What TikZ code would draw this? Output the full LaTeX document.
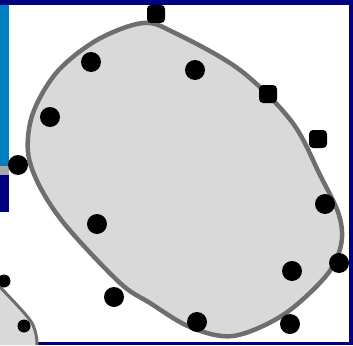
\documentclass[tikz,border=0pt]{standalone}
\begin{document}
\begin{tikzpicture}[x=1pt,y=-1pt,
  dotc/.style={circle,fill=black,draw=none,minimum size=20pt,inner sep=0pt},
  dots/.style={rectangle,rounded corners=4pt,fill=black,draw=none,minimum size=18pt,inner sep=0pt},
  dotsmall/.style={circle,fill=black,draw=none,minimum size=13pt,inner sep=0pt},
  blobline/.style={draw=blobgray,line width=4.5pt,fill=blobfill}]
\definecolor{navy}{RGB}{0,0,128}
\definecolor{barblue}{RGB}{0,128,192}
\definecolor{blobgray}{RGB}{110,110,110}
\definecolor{blobfill}{RGB}{217,217,217}
\useasboundingbox (0,0) rectangle (353,345);
% background
\fill[navy] (0,0) rectangle (353,345);
\fill[white] (9,5) rectangle (349,342);
\fill[white] (0,212) rectangle (349,342);
\fill[white] (0,342) rectangle (37,345);
\fill[barblue] (0,5) rectangle (9,166);
\fill[gray!70] (0,166) rectangle (9,175);
% bottom-left shape
\fill[blobfill] (0,287) .. controls (15,303) and (30,318) .. (33,325) .. controls (36,332) and (37,338) .. (37,345) -- (0,345) -- cycle;
\draw[blobgray,line width=3pt] (0,287) .. controls (15,303) and (30,318) .. (33,325) .. controls (36,332) and (37,338) .. (37,345);
% main blob
\draw[blobline] plot[smooth cycle,tension=0.55] coordinates {
(143,23) (175,33) (240,70) (292,122) (320,175) (339,215) (341,245) (326,276)
(283,315) (233,336) (190,327) (150,303) (120,283) (67,227) (40,187) (28,152)
(33,113) (57,72) (97,40)};
% dots
\node[dots] (d1) at (156,14) {};
\node[dotc] (d2) at (91,62) {};
\node[dotc] (d3) at (195,70) {};
\node[dots] (d4) at (268,94) {};
\node[dotc] (d5) at (50,117) {};
\node[dots] (d6) at (318,139) {};
\node[dotc] (d7) at (18,165) {};
\node[dotc] (d8) at (325,204) {};
\node[dotc] (d9) at (97,224) {};
\node[dotc] (d10) at (339,263) {};
\node[dotc] (d11) at (292,271) {};
\node[dotc] (d12) at (114,297) {};
\node[dotc] (d13) at (197,322) {};
\node[dotc] (d14) at (290,324) {};
\node[dotsmall] (d15) at (4,281) {};
\node[dotsmall] (d16) at (24,326) {};
\end{tikzpicture}
\end{document}
